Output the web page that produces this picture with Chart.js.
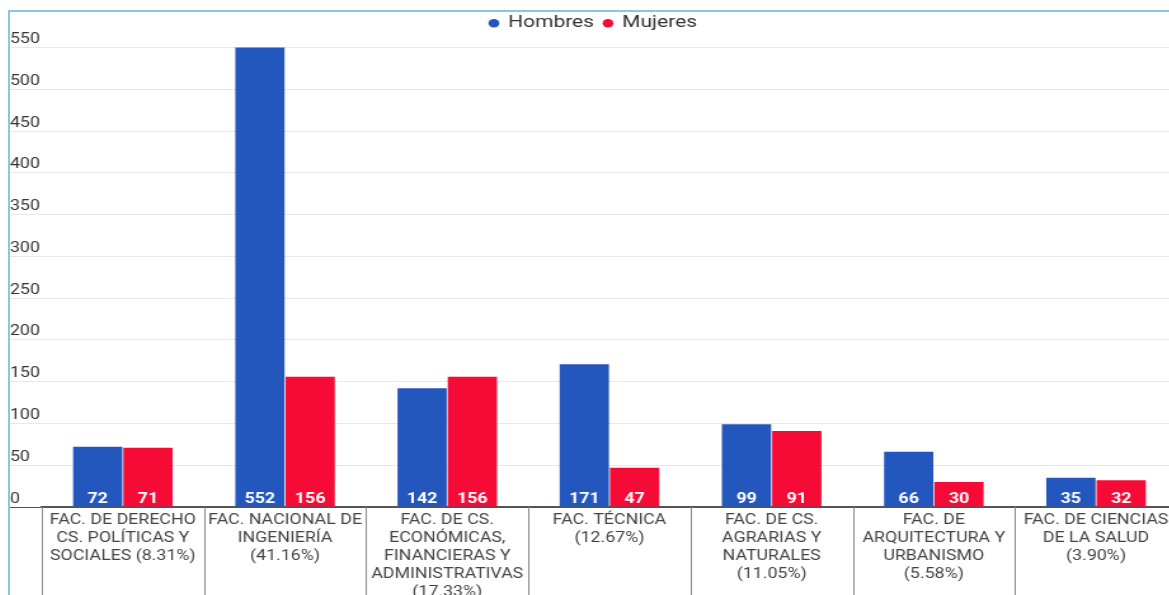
<!DOCTYPE html>
<html>
<head>
<meta charset="utf-8">
<script src="https://cdn.jsdelivr.net/npm/chart.js@4"></script>
<style>
  html, body { margin: 0; padding: 0; background: #fff; overflow: hidden; width: 1169px; height: 595px; }
  #box {
    position: absolute; left: 8px; top: 10px; width: 1300px; height: 700px;
    border-left: 2px solid #8cc4e2; border-top: 2px solid #8cc4e2;
  }
  #chart { position: absolute; left: 0; top: 0; transform: scaleX(1.27); transform-origin: 0 0; }
</style>
</head>
<body>
<div id="box"><canvas id="chart" width="922" height="605"></canvas></div>
<script>
const categories = [
  ["FAC. DE DERECHO", "CS. POLÍTICAS Y", "SOCIALES (8.31%)"],
  ["FAC. NACIONAL DE", "INGENIERÍA", "(41.16%)"],
  ["FAC. DE CS.", "ECONÓMICAS,", "FINANCIERAS Y", "ADMINISTRATIVAS", "(17.33%)"],
  ["FAC. TÉCNICA", "(12.67%)"],
  ["FAC. DE CS.", "AGRARIAS Y", "NATURALES", "(11.05%)"],
  ["FAC. DE", "ARQUITECTURA Y", "URBANISMO", "(5.58%)"],
  ["FAC. DE CIENCIAS", "DE LA SALUD", "(3.90%)"],
];
const hombres = [72, 552, 142, 171, 99, 66, 35];
const mujeres = [71, 156, 156, 47, 91, 30, 32];
const yMax = 550;
const yStep = 50;

// legend sits a bit higher than chart.js puts it
const legendSpace = {
  id: "legendSpace",
  beforeInit(chart) {
    const fit = chart.legend.fit;
    chart.legend.fit = function () {
      fit.call(this);
      this.height += 1;
    };
  },
  afterLayout(chart) {
    chart.legend.top -= 5;
    chart.legend.bottom -= 5;
  },
};

// white numbers at the foot of each bar
const barValues = {
  id: "barValues",
  afterDatasetsDraw(chart) {
    const ctx = chart.ctx;
    ctx.save();
    ctx.font = "bold 14px Roboto";
    ctx.fillStyle = "#ffffff";
    ctx.textAlign = "center";
    ctx.textBaseline = "middle";
    chart.data.datasets.forEach((ds, i) => {
      chart.getDatasetMeta(i).data.forEach((bar, j) => {
        ctx.fillText(ds.data[j], bar.x, chart.chartArea.bottom - 7.5);
      });
    });
    ctx.restore();
  },
};

// vertical separators between category labels
const separators = {
  id: "separators",
  afterDraw(chart) {
    const x = chart.scales.x;
    const n = chart.data.labels.length;
    const half = (x.getPixelForValue(1) - x.getPixelForValue(0)) / 2;
    const ctx = chart.ctx;
    ctx.save();
    ctx.strokeStyle = "#8a8a8a";
    ctx.lineWidth = 1;
    for (let i = 0; i <= n; i++) {
      const px = Math.round(x.getPixelForValue(0) - half + i * half * 2) + 0.5;
      ctx.beginPath();
      ctx.moveTo(px, chart.chartArea.bottom);
      ctx.lineTo(px, chart.height);
      ctx.stroke();
    }
    ctx.restore();
  },
};

new Chart(document.getElementById("chart"), {
  type: "bar",
  data: {
    labels: categories,
    datasets: [
      { label: "Hombres", data: hombres, backgroundColor: "#2457be" },
      { label: "Mujeres", data: mujeres, backgroundColor: "#f50b36" },
    ],
  },
  options: {
    responsive: false,
    animation: false,
    categoryPercentage: 0.62,
    barPercentage: 0.98,
    layout: { padding: { top: 0, right: 3, left: 0, bottom: 0 } },
    plugins: {
      legend: {
        position: "top",
        labels: {
          usePointStyle: true,
          pointStyle: "circle",
          boxWidth: 6,
          boxHeight: 6,
          padding: 8,
          color: "#333",
          font: { family: "Roboto", size: 16.5 },
        },
      },
      tooltip: { enabled: false },
    },
    scales: {
      x: {
        grid: { display: false },
        border: { display: true, color: "#555", width: 1.5 },
        ticks: {
          autoSkip: false,
          maxRotation: 0,
          padding: -3,
          color: "#444",
          font: { family: "Roboto", size: 14, lineHeight: 1.28 },
        },
        afterFit: (scale) => { scale.height = 110; },
      },
      y: {
        min: 0,
        max: yMax,
        border: { display: false },
        grid: {
          color: (c) => (c.tick && c.tick.value === 0 ? "#555" : "#e8e8e8"),
          tickLength: 25,
        },
        ticks: {
          stepSize: yStep,
          mirror: true,
          padding: -25,
          labelOffset: -8,
          color: "#333",
          font: { family: "Roboto", size: 14 },
        },
        afterFit: (scale) => { scale.width = 25; },
      },
    },
  },
  plugins: [legendSpace, barValues, separators],
});
</script>
</body>
</html>
